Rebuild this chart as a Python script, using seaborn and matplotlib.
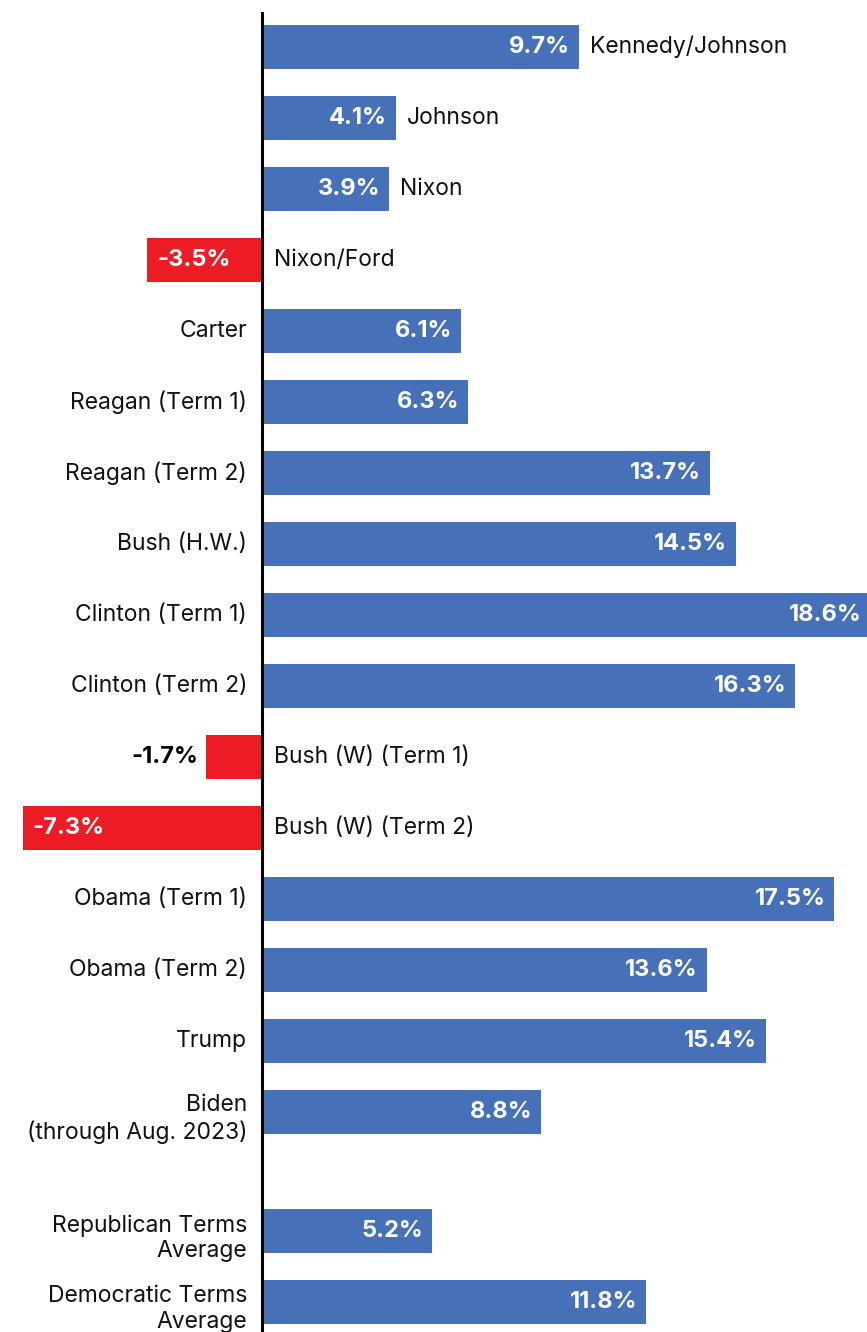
import numpy as np
import pandas as pd
import matplotlib
matplotlib.use("Agg")
import matplotlib.pyplot as plt
import seaborn as sns

names = ["Kennedy/Johnson", "Johnson", "Nixon", "Nixon/Ford", "Carter",
         "Reagan (Term 1)", "Reagan (Term 2)", "Bush (H.W.)", "Clinton (Term 1)",
         "Clinton (Term 2)", "Bush (W) (Term 1)", "Bush (W) (Term 2)",
         "Obama (Term 1)", "Obama (Term 2)", "Trump", "Biden\n(through Aug. 2023)",
         "Republican Terms\nAverage", "Democratic Terms\nAverage"]
# bar lengths as drawn in the picture (%)
values = [9.7, 4.1, 3.9, -3.5, 6.1, 6.3, 13.7, 14.5, 18.6, 16.3, -1.7, -7.3,
          17.5, 13.6, 15.4, 8.55, 5.2, 11.75]
labels = ["9.7%", "4.1%", "3.9%", "-3.5%", "6.1%", "6.3%", "13.7%", "14.5%",
          "18.6%", "16.3%", "-1.7%", "-7.3%", "17.5%", "13.6%", "15.4%",
          "8.8%", "5.2%", "11.8%"]
# names drawn right of bar end (first three) vs left of axis
name_right_of_bar = ["Kennedy/Johnson", "Johnson", "Nixon"]

BLUE = "#4671B9"
RED = "#ED1C24"

n_terms = 16
gap = 1.676
pos = [float(i) for i in range(n_terms)] + [n_terms - 1 + gap, n_terms + gap]

df = pd.DataFrame({"name": names, "value": values, "pos": pos,
                   "sign": ["neg" if v < 0 else "pos" for v in values]})

sns.set_theme(style="white")
plt.rcParams["font.family"] = ["Inter", "DejaVu Sans"]

fig = plt.figure(figsize=(8.67, 13.32), dpi=100)
ax = fig.add_axes([0, 0, 1, 1 - 12 / 1332])

sns.barplot(data=df, x="value", y="pos", hue="sign", orient="h",
            native_scale=True, dodge=False, legend=False,
            palette={"pos": BLUE, "neg": RED}, width=0.63, ax=ax,
            saturation=1, linewidth=0)

ax.set_xlim(-8.0, 18.5)
ax.set_ylim(18.10, -0.493)
ax.set_xticks([])
ax.set_yticks([])
ax.set_xlabel("")
ax.set_ylabel("")
for s in ["top", "right", "bottom", "left"]:
    ax.spines[s].set_visible(False)
ax.axvline(0, color="black", linewidth=2.2, zorder=5)

name_fs = 16.5
val_fs = 17
for name, v, lab, p in zip(names, values, labels, pos):
    two_line = "\n" in name
    if v >= 0:
        ax.text(v - 0.27, p, lab, ha="right", va="center", color="white",
                fontsize=val_fs, fontweight="bold")
        if name in name_right_of_bar:
            ax.text(v + 0.33, p, name, ha="left", va="center", color="#111111",
                    fontsize=name_fs)
        else:
            ax.text(-0.45, p + (0.1 if two_line else 0), name, ha="right",
                    va="center", color="#111111", fontsize=name_fs,
                    multialignment="right", linespacing=1.2)
    else:
        if v > -2.5:
            ax.text(v - 0.25, p, lab, ha="right", va="center", color="black",
                    fontsize=val_fs, fontweight="bold")
        else:
            ax.text(v + 0.3, p, lab, ha="left", va="center", color="white",
                    fontsize=val_fs, fontweight="bold")
        ax.text(0.37, p, name, ha="left", va="center", color="#111111",
                fontsize=name_fs)

fig.savefig("out.png", dpi=100)
